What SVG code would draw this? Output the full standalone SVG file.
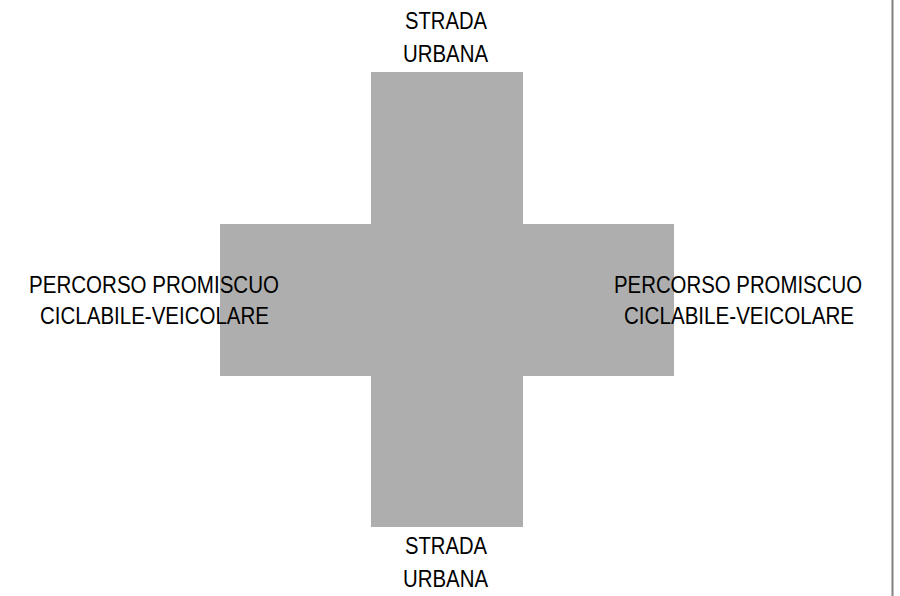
<svg xmlns="http://www.w3.org/2000/svg" width="900" height="596" viewBox="0 0 900 596">
<style>
.road{fill:#aeaeae;}
.lbl{font-family:"Liberation Sans",Arial,sans-serif;font-size:23.5px;fill:#000;text-anchor:middle;}
</style>
<rect width="900" height="596" fill="#fff"/>
<g id="cross">
<rect class="road" x="371" y="72" width="152" height="455"/>
<rect class="road" x="220" y="224" width="454" height="152"/>
</g>
<line x1="892.5" y1="0" x2="892.5" y2="596" stroke="#808080" stroke-width="2"/>
<g id="label-top">
<text class="lbl" x="446" y="29" textLength="82" lengthAdjust="spacingAndGlyphs">STRADA</text>
<text class="lbl" x="445.5" y="62" textLength="85" lengthAdjust="spacingAndGlyphs">URBANA</text>
</g>
<g id="label-bottom">
<text class="lbl" x="446" y="554" textLength="82" lengthAdjust="spacingAndGlyphs">STRADA</text>
<text class="lbl" x="445.5" y="587" textLength="85" lengthAdjust="spacingAndGlyphs">URBANA</text>
</g>
<g id="label-left">
<text class="lbl" x="154" y="293" textLength="250" lengthAdjust="spacingAndGlyphs">PERCORSO PROMISCUO</text>
<text class="lbl" x="154.5" y="324" textLength="229" lengthAdjust="spacingAndGlyphs">CICLABILE-VEICOLARE</text>
</g>
<g id="label-right">
<text class="lbl" x="738" y="293" textLength="248" lengthAdjust="spacingAndGlyphs">PERCORSO PROMISCUO</text>
<text class="lbl" x="739" y="324" textLength="230" lengthAdjust="spacingAndGlyphs">CICLABILE-VEICOLARE</text>
</g>
</svg>
